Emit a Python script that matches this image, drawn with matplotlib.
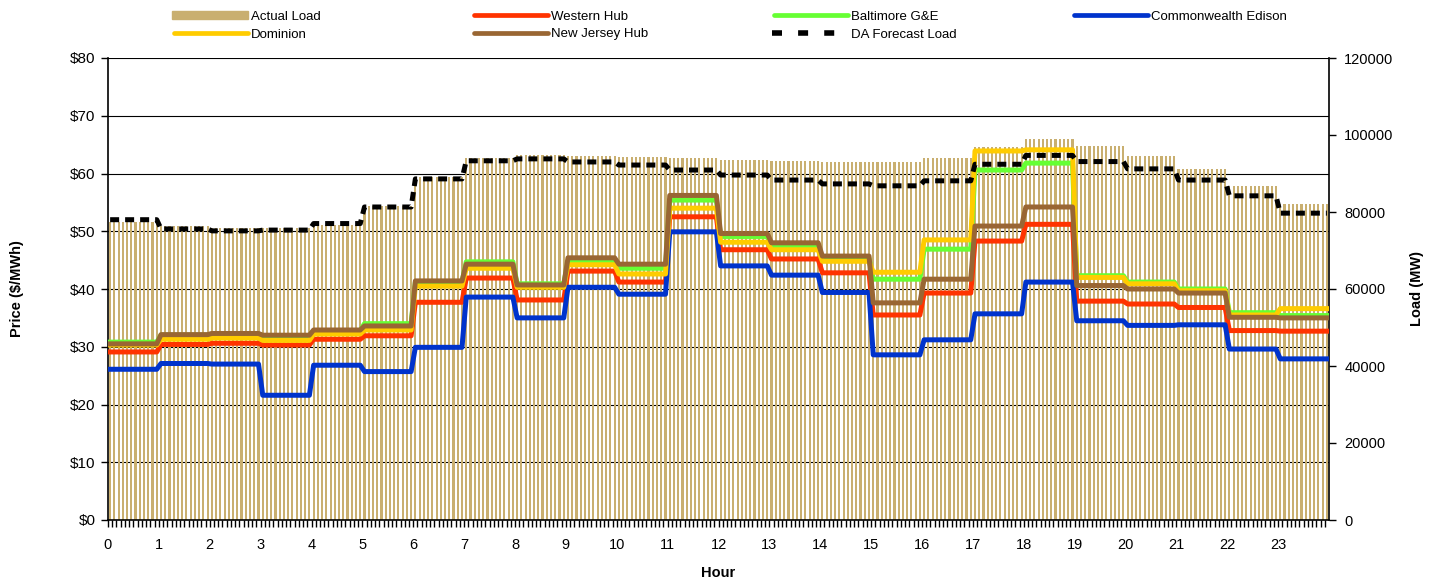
import numpy as np
import matplotlib
matplotlib.use("Agg")
import matplotlib.pyplot as plt
from matplotlib.lines import Line2D
from matplotlib.patches import Rectangle

plt.rcParams['font.family'] = ['Liberation Sans', 'DejaVu Sans']

hours = list(range(24))
hour_labels = [str(h) for h in hours]

actual_load = [77500, 76400, 75800, 75800, 76500, 81600, 89200, 94000, 94800, 94500,
               94300, 94000, 93500, 93200, 93000, 93000, 94000, 96900, 99000, 97100,
               94500, 91100, 86700, 82100]
da_forecast = [78000, 75600, 75100, 75300, 77000, 81300, 88600, 93300, 93800, 93000,
               92200, 90900, 89600, 88300, 87300, 86800, 88100, 92400, 94700, 93100,
               91200, 88300, 84200, 79700]
western_hub = [29.1, 30.4, 30.6, 30.3, 31.3, 31.9, 37.7, 41.9, 38.1, 43.1,
               41.2, 52.5, 46.8, 45.2, 42.8, 35.5, 39.3, 48.3, 51.2, 37.9,
               37.4, 36.8, 32.8, 32.7]
baltimore = [30.8, 32.0, 32.2, 31.9, 32.8, 34.0, 41.2, 44.7, 40.9, 44.8,
             43.6, 55.4, 49.1, 47.4, 45.3, 41.7, 46.9, 60.6, 61.8, 42.3,
             41.2, 40.0, 35.9, 35.4]
comed = [26.1, 27.1, 27.0, 21.6, 26.8, 25.7, 29.9, 38.6, 35.0, 40.3,
         39.1, 49.9, 44.0, 42.4, 39.4, 28.6, 31.2, 35.7, 41.2, 34.5,
         33.7, 33.8, 29.6, 27.9]
dominion = [30.3, 31.3, 31.5, 31.1, 32.2, 32.9, 40.5, 43.6, 40.3, 44.2,
            42.6, 54.0, 48.1, 46.8, 44.8, 42.9, 48.5, 63.9, 64.1, 42.0,
            40.9, 39.7, 35.5, 36.6]
nj_hub = [30.5, 32.1, 32.3, 32.0, 32.9, 33.6, 41.4, 44.3, 40.7, 45.4,
          44.3, 56.2, 49.6, 48.0, 45.7, 37.6, 41.7, 50.9, 54.2, 40.6,
          40.0, 39.3, 35.1, 35.0]

per_hour = 12
n = len(hours) * per_hour
x = (np.arange(n) + 0.5) / per_hour

def expand(v):
    return np.repeat(np.asarray(v, dtype=float), per_hour)

W, H = 1437, 578
fig = plt.figure(figsize=(W / 100, H / 100), dpi=100)
ax = fig.add_axes([108 / W, 1 - 520 / H, (1329 - 108) / W, (520 - 58) / H])
ax2 = ax.twinx()

ax.set_zorder(ax2.get_zorder() + 1)
ax.patch.set_visible(False)

ax2.bar(x, expand(actual_load), width=0.5 / per_hour, color='#C9AF70', zorder=2, linewidth=0)
ax2.set_ylim(0, 120000)
ax2.set_yticks(np.arange(0, 120001, 20000))
ax2.set_yticklabels([str(v) for v in range(0, 120001, 20000)])
for yv in np.arange(0, 81, 10):
    ax2.axhline(yv * 1500, color='black', lw=0.8, zorder=1)

lw = 3.6
ax.plot(x, expand(western_hub), color='#FF3300', lw=lw, solid_joinstyle='round', zorder=3)
ax.plot(x, expand(baltimore), color='#66FF33', lw=lw, solid_joinstyle='round', zorder=3)
ax.plot(x, expand(comed), color='#0033CC', lw=lw, solid_joinstyle='round', zorder=3)
ax.plot(x, expand(dominion), color='#FFCC00', lw=lw, solid_joinstyle='round', zorder=3)
ax.plot(x, expand(nj_hub), color='#996633', lw=lw, solid_joinstyle='round', zorder=3)
ax.plot(x, expand(da_forecast) / 1500.0, color='black', lw=lw, dashes=(1.8, 1.2),
        dash_capstyle='butt', zorder=4)

ax.set_xlim(0, 24)
ax.set_ylim(0, 80)
ax.set_yticks(np.arange(0, 81, 10))
ax.set_yticklabels(['$%d' % v for v in range(0, 81, 10)])
ax.set_xticks(hours)
ax.set_xticklabels(hour_labels)
ax.set_xticks(np.arange(n) / per_hour, minor=True)
ax2.set_xlim(0, 24)

for a in (ax, ax2):
    a.spines['top'].set_visible(False)
    for s in a.spines.values():
        s.set_linewidth(1.2)
ax.spines['right'].set_visible(False)
ax2.spines['left'].set_visible(False)
ax2.spines['bottom'].set_visible(False)

ax.tick_params(axis='y', direction='out', length=5, width=1, labelsize=11, pad=4, colors='black')
ax.tick_params(axis='x', which='major', direction='out', length=5, width=1, labelsize=10.5, pad=8)
ax.tick_params(axis='x', which='minor', direction='out', length=5, width=1)
ax2.tick_params(axis='y', direction='out', length=5, width=1, labelsize=10.5, pad=6)

ax.set_ylabel('Price ($/MWh)', fontsize=10.5, fontweight='bold', labelpad=33)
ax.set_xlabel('Hour', fontsize=10.5, fontweight='bold', labelpad=10)
ax2.set_ylabel('Load (MW)', fontsize=10.5, fontweight='bold', labelpad=12)

def fx(px):
    return px / W

def fy(py):
    return 1 - py / H

entries = [
    ('Actual Load', 'bar', '#C9AF70', 172, 15),
    ('Western Hub', 'line', '#FF3300', 472, 15),
    ('Baltimore G&E', 'line', '#66FF33', 772, 15),
    ('Commonwealth Edison', 'line', '#0033CC', 1072, 15),
    ('Dominion', 'line', '#FFCC00', 172, 33),
    ('New Jersey Hub', 'line', '#996633', 472, 33),
    ('DA Forecast Load', 'dash', 'black', 772, 33),
]
for label, kind, color, px, py in entries:
    x0, x1 = px, px + 78
    if kind == 'bar':
        fig.add_artist(Rectangle((fx(x0), fy(py + 4)), fx(76), 8 / H, color=color,
                                 transform=fig.transFigure))
    elif kind == 'line':
        fig.add_artist(Line2D([fx(x0 + 2), fx(x1 - 2)], [fy(py), fy(py)], color=color,
                              lw=3.4, solid_capstyle='round', transform=fig.transFigure))
    else:
        fig.add_artist(Line2D([fx(x0), fx(x1)], [fy(py), fy(py)], color=color,
                              lw=4.0, dashes=(1.8, 2.9), dash_capstyle='butt',
                              transform=fig.transFigure))
    fig.text(fx(x1 + 1), fy(py + 1.5), label, fontsize=9.5, va='center', ha='left')

fig.savefig('out.png', dpi=100)
